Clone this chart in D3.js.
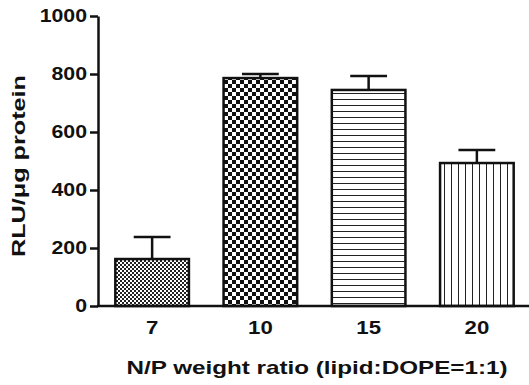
<!DOCTYPE html>
<html>
<head>
<meta charset="utf-8">
<script src="https://cdn.jsdelivr.net/npm/d3@7"></script>
<style>
  body { margin: 0; background: #fff; }
  text { font-family: "Liberation Sans", Arial, sans-serif; font-weight: bold; fill: #111; }
</style>
</head>
<body>
<svg width="529" height="385"></svg>
<script>
// values
var ratios = ["7", "10", "15", "20"];
var rlu = [162, 786, 745, 493];
var sd = [76, 14, 48, 45];
var patternIds = ["fineCheck", "bigCheck", "hLines", "vLines"];
var yTicks = [0, 200, 400, 600, 800, 1000];

var svg = d3.select("svg");
var margin = {top: 16, left: 98, bottom: 79};
var height = 385;

// the source figure's lettering is a bit wider than it is tall
function widen(sel, k) {
    sel.each(function () {
        var len = this.getComputedTextLength();
        d3.select(this).attr("textLength", len * k).attr("lengthAdjust", "spacingAndGlyphs");
    });
}

// scales
var x = d3.scaleBand()
    .domain(ratios)
    .range([margin.left, 531])
    .paddingInner(0.32)
    .paddingOuter(0.16);

var y = d3.scaleLinear()
    .domain([0, 1000])
    .range([height - margin.bottom, margin.top]);

// fill patterns (graphpad style)
var defs = svg.append("defs");

var p1 = defs.append("pattern").attr("id", "fineCheck")
    .attr("patternUnits", "userSpaceOnUse").attr("width", 4).attr("height", 4);
p1.append("rect").attr("width", 4).attr("height", 4).attr("fill", "#fff");
p1.append("rect").attr("width", 2).attr("height", 2).attr("fill", "#222");
p1.append("rect").attr("x", 2).attr("y", 2).attr("width", 2).attr("height", 2).attr("fill", "#222");

var p2 = defs.append("pattern").attr("id", "bigCheck")
    .attr("patternUnits", "userSpaceOnUse").attr("width", 8).attr("height", 8);
p2.append("rect").attr("width", 8).attr("height", 8).attr("fill", "#fff");
p2.append("rect").attr("width", 4).attr("height", 4).attr("fill", "#111");
p2.append("rect").attr("x", 4).attr("y", 4).attr("width", 4).attr("height", 4).attr("fill", "#111");

var p3 = defs.append("pattern").attr("id", "hLines")
    .attr("patternUnits", "userSpaceOnUse").attr("width", 6).attr("height", 6);
p3.append("rect").attr("width", 6).attr("height", 6).attr("fill", "#fff");
p3.append("line").attr("x1", 0).attr("x2", 6).attr("y1", 3.5).attr("y2", 3.5)
    .attr("stroke", "#222").attr("stroke-width", 1);

var p4 = defs.append("pattern").attr("id", "vLines")
    .attr("patternUnits", "userSpaceOnUse").attr("width", 7).attr("height", 7);
p4.append("rect").attr("width", 7).attr("height", 7).attr("fill", "#fff");
p4.append("line").attr("y1", 0).attr("y2", 7).attr("x1", 3.5).attr("x2", 3.5)
    .attr("stroke", "#222").attr("stroke-width", 1);

// error bars first, so bar tops cover the stem
var cap = x.bandwidth() / 2;
var err = svg.append("g").attr("stroke", "#111").attr("stroke-width", 2.5);
ratios.forEach(function (r, i) {
    var cx = x(r) + x.bandwidth() / 2;
    err.append("line").attr("x1", cx).attr("x2", cx)
        .attr("y1", y(rlu[i])).attr("y2", y(rlu[i] + sd[i]));
    err.append("line").attr("x1", cx - cap / 2).attr("x2", cx + cap / 2)
        .attr("y1", y(rlu[i] + sd[i])).attr("y2", y(rlu[i] + sd[i]));
});

// bars
svg.append("g").selectAll("rect")
    .data(ratios)
    .enter()
    .append("rect")
    .attr("x", d => x(d))
    .attr("y", (d, i) => y(rlu[i]))
    .attr("width", x.bandwidth())
    .attr("height", (d, i) => y(0) - y(rlu[i]))
    .attr("fill", (d, i) => "url(#" + patternIds[i] + ")")
    .attr("stroke", "#111")
    .attr("stroke-width", 2.5);

// y axis
var yAxis = svg.append("g")
    .attr("transform", "translate(" + margin.left + ",0)")
    .call(d3.axisLeft(y).tickValues(yTicks).tickFormat(d3.format("d"))
        .tickSize(8).tickPadding(3).tickSizeOuter(0));
yAxis.selectAll("path, line").attr("stroke", "#111").attr("stroke-width", 2.5);
yAxis.selectAll("text").style("font-size", "18.5px").attr("fill", "#111").call(widen, 1.15);

// x axis
var xAxis = svg.append("g")
    .attr("transform", "translate(0," + y(0) + ")")
    .call(d3.axisBottom(x).tickSize(0).tickPadding(15).tickSizeOuter(0));
xAxis.select("path").attr("d", "M" + (margin.left - 1) + ",0H529")
    .attr("stroke", "#111").attr("stroke-width", 2.5);
xAxis.selectAll("text").style("font-size", "18.5px").attr("fill", "#111").call(widen, 1.2);

// titles
svg.append("text")
    .attr("x", 317)
    .attr("y", 374)
    .attr("text-anchor", "middle")
    .style("font-size", "19px")
    .attr("textLength", 381)
    .attr("lengthAdjust", "spacingAndGlyphs")
    .text("N/P weight ratio (lipid:DOPE=1:1)");

svg.append("text")
    .attr("transform", "translate(25,166) rotate(-90)")
    .attr("text-anchor", "middle")
    .style("font-size", "18.5px")
    .attr("textLength", 182)
    .attr("lengthAdjust", "spacingAndGlyphs")
    .text("RLU/μg protein");
</script>
</body>
</html>
